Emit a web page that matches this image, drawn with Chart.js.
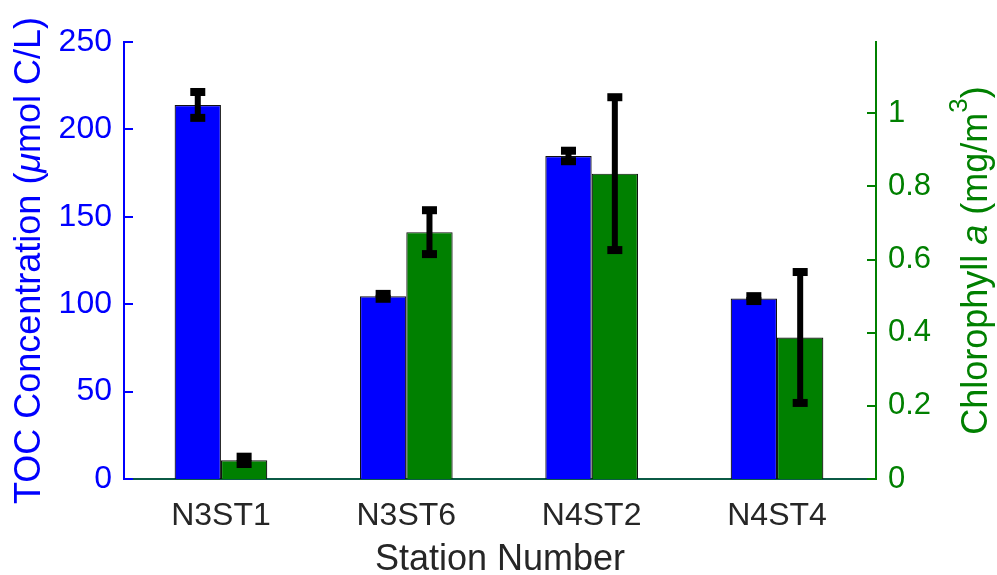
<!DOCTYPE html>
<html>
<head>
<meta charset="utf-8">
<script src="https://cdn.jsdelivr.net/npm/chart.js@4/dist/chart.umd.min.js"></script>
<style>
  html, body { margin: 0; padding: 0; background: #fff; }
  #wrap { width: 997px; height: 575px; position: relative; }
</style>
</head>
<body>
<div id="wrap"><canvas id="c" width="997" height="575"></canvas></div>
<script>
// Stations along the x axis
const stations = ['N3ST1', 'N3ST6', 'N4ST2', 'N4ST4'];

// Total organic carbon (µmol C/L) and its error
const tocValues = [214, 104.5, 184.8, 103.2];
const tocErrors = [7.4, 1.4, 3.0, 1.4];

// Chlorophyll a (mg/m^3) and its error
const chlValues = [0.051, 0.675, 0.835, 0.387];
const chlErrors = [0.01, 0.06, 0.209, 0.179];

// Axis ticks
const tocTicks = [0, 50, 100, 150, 200, 250];
const chlTicks = [0, 0.2, 0.4, 0.6, 0.8, 1];

const BLUE = '#0000ff';
const GREEN = '#008000';
const FONT = '"Liberation Sans", Arial, Helvetica, sans-serif';

// Station i sits at x = i + 1 on a numeric axis
const toPoints = vals => vals.map((v, i) => ({ x: i + 1, y: v }));

// Inward tick marks on both value axes
const innerTicks = {
  id: 'innerTicks',
  afterDraw(chart) {
    const ctx = chart.ctx;
    const area = chart.chartArea;
    ctx.save();
    ctx.lineWidth = 2;
    const yL = chart.scales.y;
    ctx.strokeStyle = BLUE;
    tocTicks.forEach(v => {
      const py = Math.round(yL.getPixelForValue(v));
      ctx.beginPath();
      ctx.moveTo(area.left, py);
      ctx.lineTo(area.left + 9, py);
      ctx.stroke();
    });
    const yR = chart.scales.y1;
    ctx.strokeStyle = GREEN;
    chlTicks.forEach(v => {
      const py = Math.round(yR.getPixelForValue(v));
      ctx.beginPath();
      ctx.moveTo(area.right, py);
      ctx.lineTo(area.right - 9, py);
      ctx.stroke();
    });
    ctx.restore();
  }
};

// Error bars with thick caps, drawn on top of each bar
const errorBars = {
  id: 'errorBars',
  afterDatasetsDraw(chart) {
    const ctx = chart.ctx;
    ctx.save();
    ctx.fillStyle = '#000';
    chart.data.datasets.forEach((ds, i) => {
      const meta = chart.getDatasetMeta(i);
      const scale = chart.scales[ds.yAxisID];
      meta.data.forEach((bar, j) => {
        const v = ds.data[j].y;
        const e = ds.errors[j];
        const yTop = scale.getPixelForValue(v + e);
        const yBot = scale.getPixelForValue(v - e);
        const x = bar.x;
        ctx.fillRect(x - 3, yTop, 6, yBot - yTop);
        ctx.fillRect(x - 7.5, yTop - 4, 15, 8);
        ctx.fillRect(x - 7.5, yBot - 4, 15, 8);
      });
    });
    ctx.restore();
  }
};

// Draws a sequence of text runs rotated -90 degrees, centred on (cx, cy)
function drawRuns(ctx, runs, cx, cy) {
  ctx.save();
  ctx.translate(cx, cy);
  ctx.rotate(-Math.PI / 2);
  ctx.textBaseline = 'alphabetic';
  ctx.textAlign = 'left';
  let total = 0;
  runs.forEach(r => { ctx.font = r.font; r.w = ctx.measureText(r.text).width; total += r.w; });
  let x = -total / 2;
  runs.forEach(r => {
    ctx.font = r.font;
    ctx.fillStyle = r.color;
    ctx.fillText(r.text, x, r.dy || 0);
    x += r.w;
  });
  ctx.restore();
}

const axisTitles = {
  id: 'axisTitles',
  afterDraw(chart) {
    const ctx = chart.ctx;
    const area = chart.chartArea;
    const cy = (area.top + area.bottom) / 2;
    const n = '36px ' + FONT;
    const it = 'italic 36px ' + FONT;
    drawRuns(ctx, [
      { text: 'TOC Concentration (', font: n, color: BLUE },
      { text: 'μ', font: it, color: BLUE },
      { text: 'mol C/L)', font: n, color: BLUE }
    ], 40, cy);
    drawRuns(ctx, [
      { text: 'Chlorophyll ', font: n, color: GREEN },
      { text: 'a', font: it, color: GREEN },
      { text: ' (mg/m', font: n, color: GREEN },
      { text: '3', font: '26px ' + FONT, color: GREEN, dy: -20 },
      { text: ')', font: n, color: GREEN }
    ], 987, cy);
    // x axis title
    ctx.save();
    ctx.font = '36px ' + FONT;
    ctx.fillStyle = '#262626';
    ctx.textAlign = 'center';
    ctx.textBaseline = 'alphabetic';
    ctx.fillText('Station Number', (area.left + area.right) / 2, 570);
    ctx.restore();
  }
};

new Chart(document.getElementById('c'), {
  type: 'bar',
  data: {
    datasets: [
      {
        label: 'TOC',
        data: toPoints(tocValues),
        errors: tocErrors,
        yAxisID: 'y',
        backgroundColor: BLUE,
        borderColor: '#111',
        borderWidth: 1.2
      },
      {
        label: 'Chlorophyll a',
        data: toPoints(chlValues),
        errors: chlErrors,
        yAxisID: 'y1',
        backgroundColor: GREEN,
        borderColor: '#111',
        borderWidth: 1.2
      }
    ]
  },
  options: {
    responsive: false,
    animation: false,
    devicePixelRatio: 1,
    layout: { padding: { top: 42, left: 0, right: 0, bottom: 0 } },
    plugins: { legend: { display: false }, tooltip: { enabled: false } },
    datasets: { bar: { categoryPercentage: 0.5, barPercentage: 1.0 } },
    scales: {
      x: {
        type: 'linear',
        min: 0.477, max: 4.534,
        offset: false,
        grid: { display: false, drawTicks: false },
        border: { display: true, color: '#0b5a45', width: 2 },
        afterBuildTicks(s) { s.ticks = stations.map((_, i) => ({ value: i + 1 })); },
        ticks: {
          color: '#262626', font: { family: FONT, size: 32 }, padding: 18,
          autoSkip: false, maxRotation: 0,
          callback: v => stations[Math.round(v) - 1] || ''
        },
        afterFit(s) { s.height = 575 - 479; }
      },
      y: {
        position: 'left',
        min: 0, max: 250,
        grid: { display: false, drawTicks: false },
        border: { display: true, color: BLUE, width: 2 },
        afterBuildTicks(s) { s.ticks = tocTicks.map(v => ({ value: v })); },
        ticks: { color: BLUE, font: { family: FONT, size: 32 }, padding: 12 },
        afterFit(s) { s.width = 124; }
      },
      y1: {
        position: 'right',
        min: 0, max: 1.195,
        grid: { display: false, drawTicks: false },
        border: { display: true, color: GREEN, width: 2 },
        afterBuildTicks(s) { s.ticks = chlTicks.map(v => ({ value: v })); },
        ticks: {
          color: GREEN, font: { family: FONT, size: 31 }, padding: 12,
          callback: v => String(Math.round(v * 10) / 10)
        },
        afterFit(s) { s.width = 997 - 876; }
      }
    }
  },
  plugins: [innerTicks, errorBars, axisTitles]
});
</script>
</body>
</html>
